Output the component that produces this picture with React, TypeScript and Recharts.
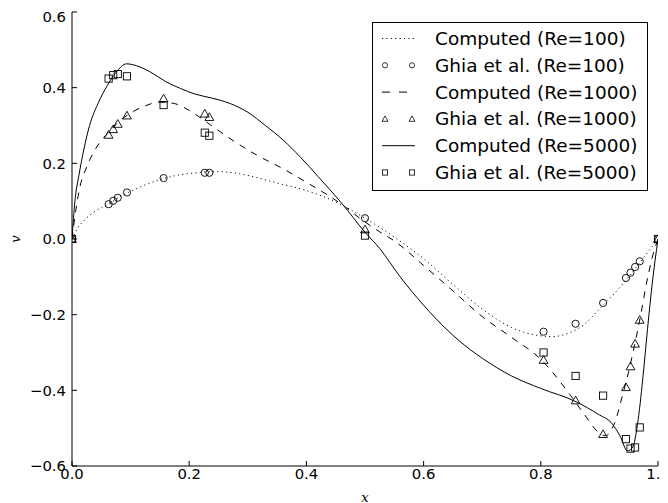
import React from 'react';
import { ComposedChart, Line, Scatter, XAxis, YAxis, Legend, Label } from 'recharts';

// Ghia et al. benchmark points
const ghiaX = [1.0, 0.9688, 0.9609, 0.9531, 0.9453, 0.9063, 0.8594, 0.8047, 0.5, 0.2344, 0.2266, 0.1563, 0.0938, 0.0781, 0.0703, 0.0625, 0.0];
const ghiaV100 = [0.0, -0.059, -0.074, -0.089, -0.103, -0.169, -0.224, -0.245, 0.055, 0.175, 0.175, 0.161, 0.123, 0.109, 0.101, 0.092, 0.0];
const ghiaV1000 = [0.0, -0.214, -0.277, -0.337, -0.392, -0.516, -0.427, -0.320, 0.025, 0.322, 0.331, 0.371, 0.326, 0.304, 0.290, 0.275, 0.0];
const ghiaV5000 = [0.0, -0.498, -0.551, -0.554, -0.529, -0.414, -0.362, -0.300, 0.009, 0.273, 0.281, 0.354, 0.430, 0.436, 0.433, 0.424, 0.0];

// Computed profiles
const comp100X = [0, 0.01, 0.02, 0.04, 0.0625, 0.08, 0.1, 0.125, 0.15, 0.175, 0.2, 0.225, 0.25, 0.275, 0.3, 0.35, 0.4, 0.45, 0.5, 0.55, 0.6, 0.65, 0.7, 0.75, 0.8, 0.82, 0.85, 0.875, 0.9, 0.925, 0.95, 0.97, 0.985, 1.0];
const comp100V = [0, 0.03, 0.048, 0.074, 0.092, 0.11, 0.126, 0.143, 0.157, 0.167, 0.173, 0.177, 0.178, 0.175, 0.168, 0.148, 0.128, 0.098, 0.055, 0.005, -0.052, -0.12, -0.185, -0.234, -0.256, -0.258, -0.247, -0.225, -0.185, -0.145, -0.1, -0.06, -0.03, 0];

const comp1000X = [0, 0.005, 0.0136, 0.025, 0.036, 0.05, 0.0625, 0.08, 0.1, 0.125, 0.15, 0.175, 0.2, 0.235, 0.275, 0.315, 0.355, 0.4, 0.457, 0.5, 0.525, 0.55, 0.6, 0.65, 0.7, 0.75, 0.8, 0.85, 0.875, 0.9, 0.91, 0.925, 0.94, 0.95, 0.96, 0.97, 0.98, 0.99, 1.0];
const comp1000V = [0, 0.06, 0.138, 0.19, 0.227, 0.26, 0.282, 0.31, 0.333, 0.352, 0.362, 0.358, 0.34, 0.303, 0.26, 0.222, 0.19, 0.15, 0.095, 0.045, 0.019, -0.005, -0.07, -0.137, -0.205, -0.26, -0.318, -0.412, -0.465, -0.513, -0.52, -0.49, -0.41, -0.35, -0.28, -0.205, -0.12, -0.05, 0];

const comp5000X = [0, 0.005, 0.012, 0.02, 0.03, 0.045, 0.06, 0.075, 0.093, 0.11, 0.133, 0.16, 0.185, 0.21, 0.24, 0.27, 0.3, 0.33, 0.36, 0.39, 0.42, 0.46, 0.5, 0.525, 0.56, 0.6, 0.64, 0.68, 0.7, 0.75, 0.8, 0.86, 0.9, 0.92, 0.935, 0.948, 0.957, 0.965, 0.974, 0.982, 0.99, 1.0];
const comp5000V = [0, 0.1, 0.17, 0.235, 0.3, 0.36, 0.405, 0.44, 0.463, 0.458, 0.442, 0.416, 0.398, 0.383, 0.372, 0.358, 0.335, 0.3, 0.262, 0.216, 0.165, 0.095, 0.018, -0.025, -0.1, -0.175, -0.24, -0.293, -0.315, -0.362, -0.395, -0.43, -0.465, -0.485, -0.52, -0.56, -0.55, -0.49, -0.37, -0.24, -0.12, 0];

const xTicks = [0, 0.2, 0.4, 0.6, 0.8, 1.0];
const yTicks = [-0.6, -0.4, -0.2, 0, 0.2, 0.4, 0.6];

const legendLabels = [
  'Computed (Re=100)',
  'Ghia et al. (Re=100)',
  'Computed (Re=1000)',
  'Ghia et al. (Re=1000)',
  'Computed (Re=5000)',
  'Ghia et al. (Re=5000)',
];

const zip = (xs: number[], vs: number[]) => xs.map((x, i) => ({ x, v: vs[i] }));

const c100 = zip(comp100X, comp100V);
const c1000 = zip(comp1000X, comp1000V);
const c5000 = zip(comp5000X, comp5000V);
const g100 = zip(ghiaX, ghiaV100);
const g1000 = zip(ghiaX, ghiaV1000);
const g5000 = zip(ghiaX, ghiaV5000);

const DOT = '1.1 3.3';
const DASH = '6.7 6.7';
const FONT = "'DejaVu Sans', sans-serif";

const Circ = (p: any) => <circle cx={p.cx} cy={p.cy} r={3.6} fill="none" stroke="#000" strokeWidth={0.9} />;
const Sq = (p: any) => <rect x={p.cx - 3.6} y={p.cy - 3.6} width={7.2} height={7.2} fill="none" stroke="#000" strokeWidth={0.9} />;
const Tri = (p: any) => {
  const s = 4.4;
  return (
    <polygon
      points={`${p.cx},${p.cy - s} ${p.cx - s},${p.cy + s * 0.75} ${p.cx + s},${p.cy + s * 0.75}`}
      fill="none"
      stroke="#000"
      strokeWidth={0.9}
    />
  );
};

const fmt = (v: number) => {
  const s = (Math.abs(v) < 1e-9 ? 0 : v).toFixed(1);
  return s.replace('-', '\u2212');
};

const LegendBox = () => {
  const w = 276;
  const h = 169;
  const rowY = (i: number) => 16.5 + i * 26.8;
  const x1 = 13;
  const x2 = 40;
  const sample = (i: number) => {
    const y = rowY(i);
    if (i === 0) return <line x1={x1 - 3} x2={x2 + 3} y1={y} y2={y} stroke="#000" strokeWidth={1} strokeDasharray={DOT} />;
    if (i === 2) return <line x1={x1 - 3} x2={x2 + 3} y1={y} y2={y} stroke="#000" strokeWidth={1} strokeDasharray="8 9" />;
    if (i === 4) return <line x1={x1 - 3} x2={x2 + 3} y1={y} y2={y} stroke="#000" strokeWidth={1} />;
    if (i === 1)
      return (
        <g>
          <circle cx={x1} cy={y} r={2.6} fill="none" stroke="#000" strokeWidth={0.8} />
          <circle cx={x2} cy={y} r={2.6} fill="none" stroke="#000" strokeWidth={0.8} />
        </g>
      );
    if (i === 3)
      return (
        <g>
          {[x1, x2].map((cx) => (
            <polygon key={cx} points={`${cx},${y - 3} ${cx - 3},${y + 2.4} ${cx + 3},${y + 2.4}`} fill="none" stroke="#000" strokeWidth={0.8} />
          ))}
        </g>
      );
    return (
      <g>
        {[x1, x2].map((cx) => (
          <rect key={cx} x={cx - 2.6} y={y - 2.6} width={5.2} height={5.2} fill="none" stroke="#000" strokeWidth={0.8} />
        ))}
      </g>
    );
  };
  return (
    <svg width={w} height={h} style={{ display: 'block' }}>
      <rect x={0.5} y={0.5} width={w - 1} height={h - 1} fill="#fff" stroke="#000" strokeWidth={1} />
      {legendLabels.map((t, i) => (
        <g key={t}>
          {sample(i)}
          <text x={63} y={rowY(i)} dominantBaseline="central" fontFamily={FONT} fontSize={18.5} fill="#000">
            {t}
          </text>
        </g>
      ))}
    </svg>
  );
};

export default function App() {
  return (
    <ComposedChart width={660} height={495} margin={{ top: 4, right: 10, bottom: 0, left: 0 }}>
      <XAxis
        xAxisId={0}
        dataKey="x"
        type="number"
        domain={[0, 1]}
        ticks={xTicks}
        tickFormatter={fmt}
        height={37}
        tickSize={-5}
        tickMargin={7}
        stroke="#000"
        tick={{ fill: '#000', fontSize: 14.8, fontFamily: FONT }}
        tickLine={{ stroke: '#000' }}
        axisLine={{ stroke: '#000' }}
        allowDataOverflow
      >
        <Label
          content={() => (
            <text x={357} y={489} textAnchor="middle" dominantBaseline="central" fontFamily="'DejaVu Serif', serif" fontStyle="italic" fontSize={13} fill="#000">
              x
            </text>
          )}
        />
      </XAxis>
      <XAxis
        xAxisId="top"
        orientation="top"
        dataKey="x"
        type="number"
        domain={[0, 1]}
        ticks={xTicks}
        tickFormatter={() => ''}
        height={0}
        tickSize={-5}
        stroke="#000"
        tickLine={{ stroke: '#000' }}
        axisLine={{ stroke: '#000' }}
      />
      <YAxis
        yAxisId={0}
        type="number"
        domain={[-0.6, 0.6]}
        ticks={yTicks}
        tickFormatter={fmt}
        width={64}
        tickSize={-5}
        tickMargin={11}
        stroke="#000"
        tick={{ fill: '#000', fontSize: 14.8, fontFamily: FONT }}
        tickLine={{ stroke: '#000' }}
        axisLine={{ stroke: '#000' }}
        allowDataOverflow
      >
        <Label
          content={() => (
            <text x={7} y={231} transform="rotate(-90 7 231)" textAnchor="middle" dominantBaseline="central" fontFamily="'DejaVu Serif', serif" fontStyle="italic" fontSize={13} fill="#000">
              v
            </text>
          )}
        />
      </YAxis>
      <YAxis
        yAxisId="right"
        orientation="right"
        type="number"
        domain={[-0.6, 0.6]}
        ticks={yTicks}
        tickFormatter={() => ''}
        width={0}
        tickSize={-5}
        stroke="#000"
        tickLine={{ stroke: '#000' }}
        axisLine={{ stroke: '#000' }}
      />
      <Legend
        layout="vertical"
        align="center"
        verticalAlign="middle"
        wrapperStyle={{ left: 364, top: 14, width: 276, height: 169 }}
        content={() => <LegendBox />}
      />
      <Line data={c100} dataKey="v" name={legendLabels[0]} type="monotone" stroke="#000" strokeWidth={1} strokeDasharray={DOT} dot={false} activeDot={false} isAnimationActive={false} />
      <Scatter data={g100} dataKey="v" name={legendLabels[1]} shape={Circ} isAnimationActive={false} />
      <Line data={c1000} dataKey="v" name={legendLabels[2]} type="monotone" stroke="#000" strokeWidth={1} strokeDasharray={DASH} dot={false} activeDot={false} isAnimationActive={false} />
      <Scatter data={g1000} dataKey="v" name={legendLabels[3]} shape={Tri} isAnimationActive={false} />
      <Line data={c5000} dataKey="v" name={legendLabels[4]} type="monotone" stroke="#000" strokeWidth={1} dot={false} activeDot={false} isAnimationActive={false} />
      <Scatter data={g5000} dataKey="v" name={legendLabels[5]} shape={Sq} isAnimationActive={false} />
    </ComposedChart>
  );
}
